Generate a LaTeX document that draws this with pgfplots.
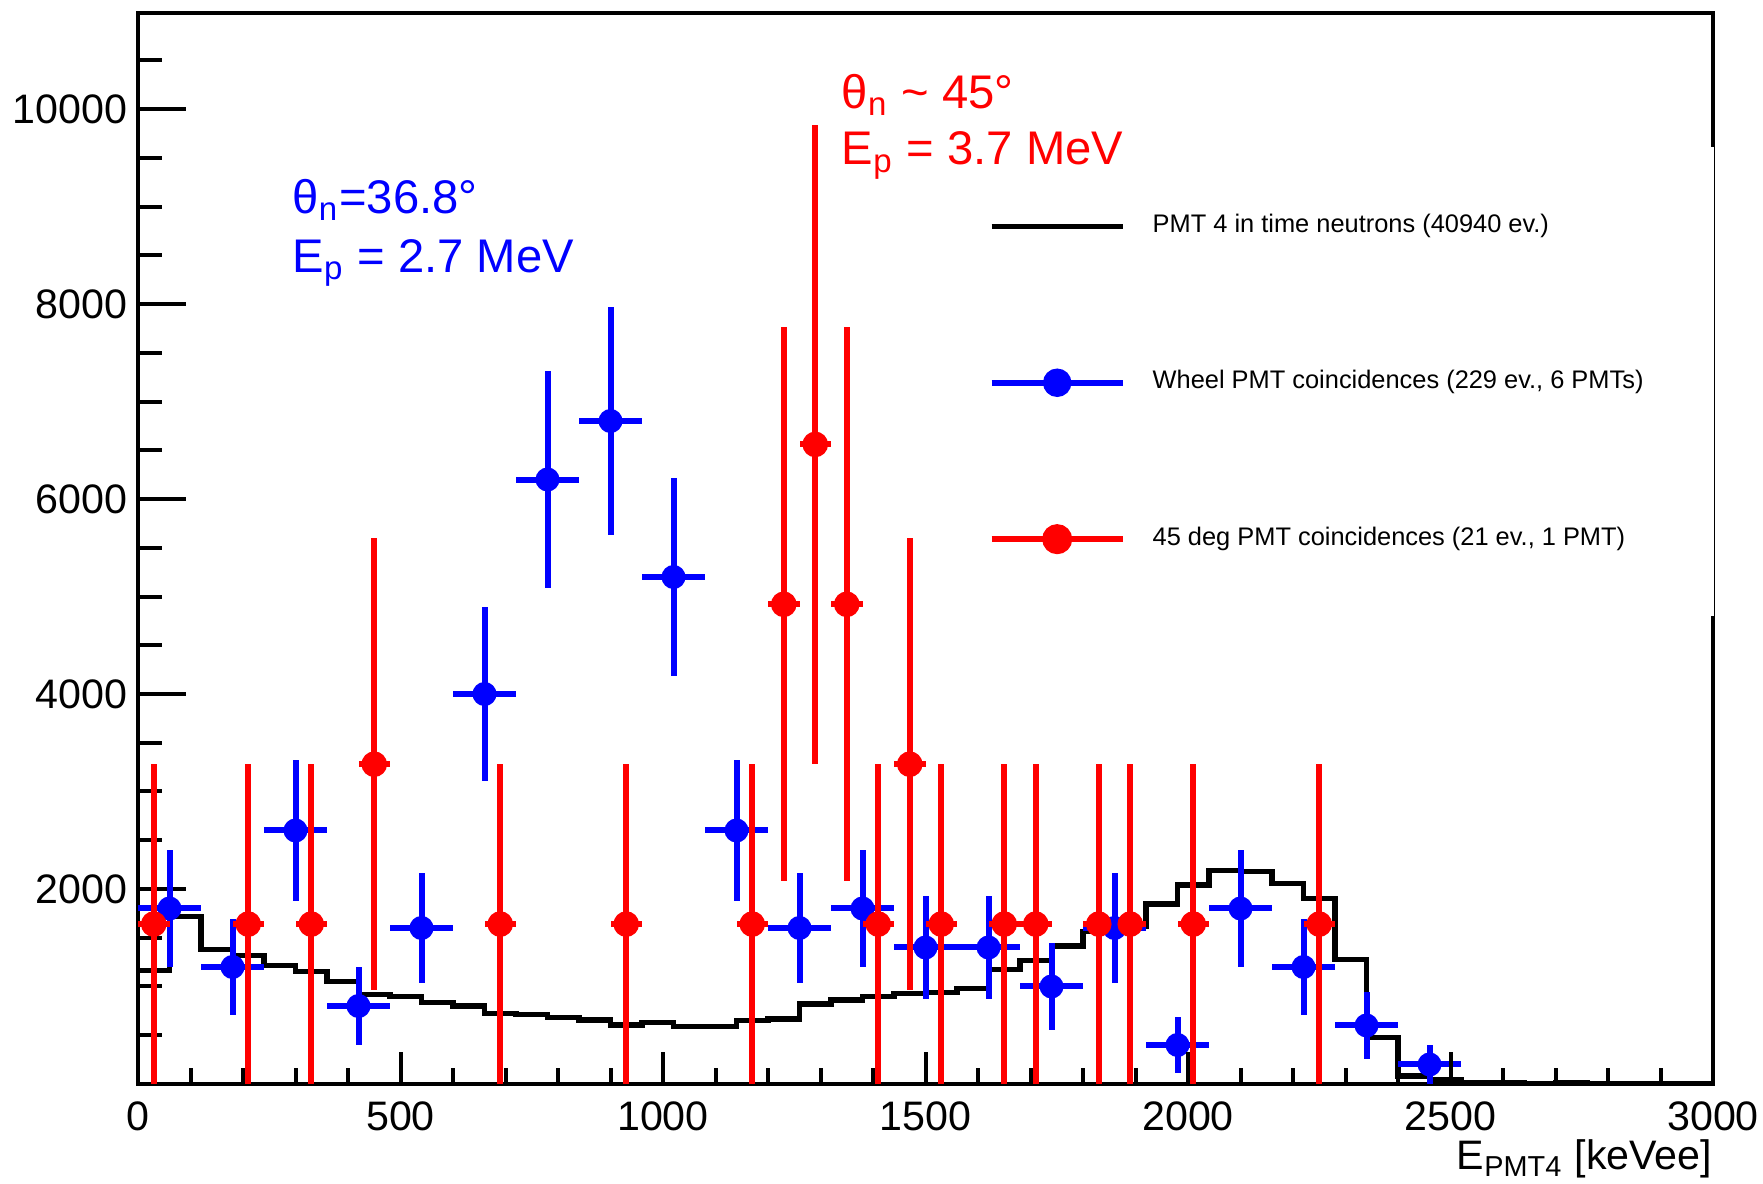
\documentclass[border=0pt]{standalone}
\usepackage{pgfplots}
\usepackage{pgfplotstable}
\pgfplotsset{compat=1.18}
\usepackage{fontspec}
\setmainfont{Liberation Sans}
\definecolor{rblue}{RGB}{0,0,255}
\definecolor{rred}{RGB}{255,0,0}

\pgfplotstableread{
x y
0 1165
60 1720
120 1380
180 1315
240 1215
300 1150
360 1050
420 915
480 900
540 835
600 800
660 725
720 712
780 684
840 656
900 605
960 629
1020 588
1080 588
1140 650
1200 667
1260 820
1320 861
1380 896
1440 930
1500 937
1560 981
1620 1176
1680 1265
1740 1415
1800 1562
1860 1620
1920 1846
1980 2041
2040 2188
2100 2178
2160 2058
2220 1904
2280 1279
2340 479
2400 82
2460 40
2520 15
2580 12
2640 8
2700 10
2760 6
2820 8
2880 5
2940 6
3000 6
}\histdata

\pgfplotstableread{
x y ex ey
60 1800 60 600
180 1200 60 489.9
300 2600 60 721.1
420 800 60 400
540 1600 60 565.7
660 4000 60 894.4
780 6200 60 1113.6
900 6800 60 1166.2
1020 5200 60 1019.8
1140 2600 60 721.1
1260 1600 60 565.7
1380 1800 60 600
1500 1400 60 529.2
1620 1400 60 529.2
1740 1000 60 447.2
1860 1600 60 565.7
1980 400 60 282.8
2100 1800 60 600
2220 1200 60 489.9
2340 600 60 346.4
2460 200 60 200
}\bluedata

\pgfplotstableread{
x y ex ey
30 1640 30 1640
210 1640 30 1640
330 1640 30 1640
450 3280 30 2319.4
690 1640 30 1640
930 1640 30 1640
1170 1640 30 1640
1230 4920 30 2840.6
1290 6560 30 3280
1350 4920 30 2840.6
1410 1640 30 1640
1470 3280 30 2319.4
1530 1640 30 1640
1650 1640 30 1640
1710 1640 30 1640
1830 1640 30 1640
1890 1640 30 1640
2010 1640 30 1640
2250 1640 30 1640
}\reddata

\begin{document}
\begin{tikzpicture}
\useasboundingbox (-34.5pt,-25pt) rectangle (406.25pt,271pt);
\begin{axis}[
  at={(0pt,0pt)}, anchor=south west,
  scale only axis, width=393.75pt, height=267.75pt,
  xmin=0, xmax=3000, ymin=0, ymax=10985,
  axis line style={line width=1pt, black},
  xtick=\empty,
  ytick={0,2000,4000,6000,8000,10000},
  yticklabels={,2000,4000,6000,8000,10000},
  minor ytick={500,1000,...,10500},
  tick pos=left, tick align=inside,
  major tick length=12pt, minor tick length=6pt,
  tick style={black, line width=1pt},
  yticklabel style={font=\fontsize{10.3}{12}\selectfont, inner sep=0pt, xshift=-2.5pt},
  /pgf/number format/assume math mode=true,
  scaled ticks=false,
  clip=false,
  legend cell align=left,
  legend image code/.code={\draw[#1,mark repeat=2,mark phase=2] plot coordinates {(0pt,0pt) (16.375pt,0pt) (32.75pt,0pt)};},
  legend style={at={(axis cs:1596,9012)}, anchor=north west, draw=none, fill=none,
    font=\fontsize{6.35}{7.5}\selectfont, row sep=33pt, column sep=6.75pt,
    nodes={inner sep=0pt}},
]
\addplot[const plot, black, line width=1.3pt, forget plot] table[x=x,y=y]{\histdata};

\addplot[only marks, mark=*, mark size=2.8pt, color=rblue, mark options={fill=rblue, draw=rblue}, forget plot,
  error bars/.cd, x dir=both, x explicit, y dir=both, y explicit, error mark=none,
  error bar style={line width=1.5pt, rblue}]
  table[x=x, y=y, x error=ex, y error=ey]{\bluedata};

\addplot[only marks, mark=*, mark size=3pt, color=rred, mark options={fill=rred, draw=rred}, forget plot,
  error bars/.cd, x dir=both, x explicit, y dir=both, y explicit, error mark=none,
  error bar style={line width=1.5pt, rred}]
  table[x=x, y=y, x error=ex, y error=ey]{\reddata};

\fill[white] ([xshift=-1.75pt]axis cs:3000,4800) rectangle ([xshift=0.2pt]axis cs:3000,9610);

\addlegendimage{black, line width=1.3pt}
\addlegendentry{PMT 4 in time neutrons (40940 ev.)}
\addlegendimage{rblue, line width=1.5pt, mark=*, mark size=2.8pt, mark options={fill=rblue, draw=rblue}}
\addlegendentry{Wheel PMT coincidences (229 ev., 6 PMTs)}
\addlegendimage{rred, line width=1.5pt, mark=*, mark size=3pt, mark options={fill=rred, draw=rred}}
\addlegendentry{45 deg PMT coincidences (21 ev., 1 PMT)}

\node[anchor=base west, inner sep=0pt, text=rblue, font=\fontsize{11.8}{14}\selectfont] at (axis cs:293,8933) {θ\textsubscript{n}=36.8°};
\node[anchor=base west, inner sep=0pt, text=rblue, font=\fontsize{11.8}{14}\selectfont] at (axis cs:293,8328) {E\textsubscript{p} = 2.7 MeV};
\node[anchor=base west, inner sep=0pt, text=rred, font=\fontsize{11.8}{14}\selectfont] at (axis cs:1339,10010) {θ\textsubscript{n} \textasciitilde{} 45°};
\node[anchor=base west, inner sep=0pt, text=rred, font=\fontsize{11.8}{14}\selectfont] at (axis cs:1339,9426) {E\textsubscript{p} = 3.7 MeV};
\end{axis}

\begin{axis}[
  at={(0pt,0pt)}, anchor=south west,
  scale only axis, width=393.75pt, height=267.75pt,
  xmin=0, xmax=3000, ymin=0, ymax=10985,
  axis line style={draw=none},
  ytick=\empty,
  xtick={0,500,1000,1500,2000,2500,3000},
  minor xtick={0,100,...,3000},
  tick pos=left, tick align=inside,
  major tick length=8pt, minor tick length=4pt,
  tick style={black, line width=1pt},
  xticklabel style={font=\fontsize{10.3}{12}\selectfont, inner sep=0pt, yshift=-4.25pt},
  /pgf/number format/assume math mode=true,
  /pgf/number format/1000 sep={},
  scaled ticks=false,
  xlabel={E\textsubscript{PMT4} [keVee]},
  xlabel style={at={(rel axis cs:1,0)}, anchor=base east, inner sep=0pt, yshift=-21.5pt, font=\fontsize{10.3}{12}\selectfont},
]
\addplot[draw=none, forget plot] coordinates {(0,0)};
\end{axis}
\end{tikzpicture}
\end{document}
